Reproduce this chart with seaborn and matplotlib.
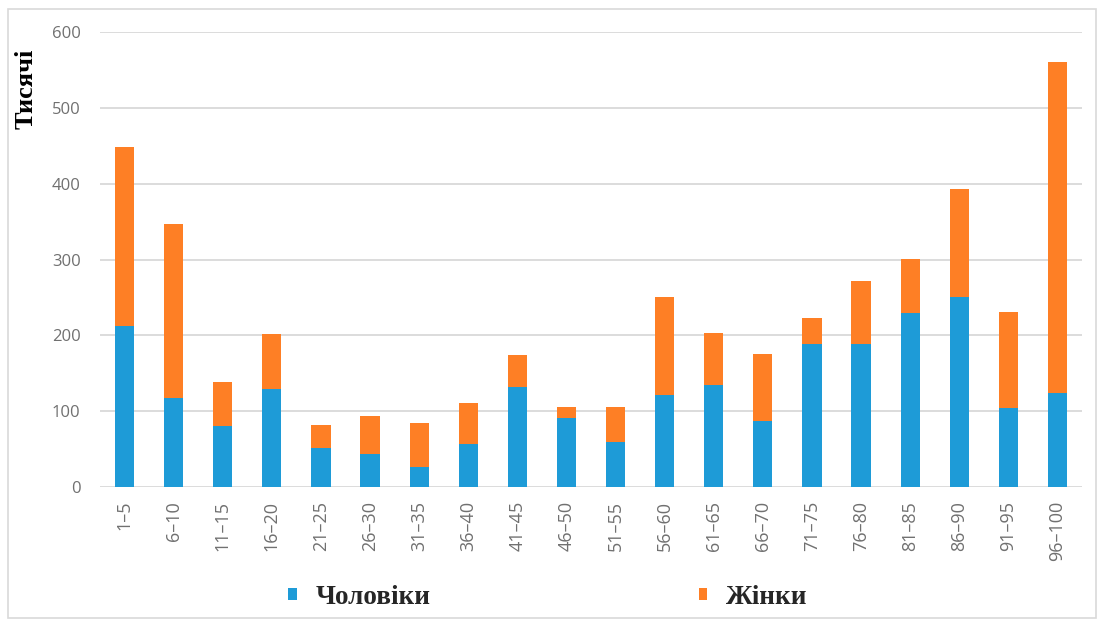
import numpy as np
import pandas as pd
import matplotlib
matplotlib.use("Agg")
import matplotlib.pyplot as plt
from matplotlib.patches import Patch, Rectangle
from matplotlib.font_manager import FontProperties
import seaborn as sns

# Age groups and counts (thousands)
age_groups = ["1–5", "6–10", "11–15", "16–20", "21–25", "26–30", "31–35", "36–40",
              "41–45", "46–50", "51–55", "56–60", "61–65", "66–70", "71–75", "76–80",
              "81–85", "86–90", "91–95", "96–100"]
men = [212, 117, 81, 129, 51, 44, 27, 57, 132, 91, 60, 121, 135, 87, 188, 189,
       229, 251, 104, 124]
women = [237, 230, 58, 73, 31, 49, 58, 54, 42, 15, 45, 130, 68, 88, 35, 83,
         72, 142, 127, 437]
y_ticks = [0, 100, 200, 300, 400, 500, 600]

men_label = "Чоловіки"
women_label = "Жінки"
y_label = "Тисячі"

blue = "#1E9BD7"
orange = "#FE7F25"
grid_col = "#D9D9D9"
tick_col = "#707070"

df = pd.DataFrame({"age": age_groups, "men": men, "women": women})
df["total"] = df["men"] + df["women"]

sns.set_theme(style="white")
plt.rcParams["font.family"] = ["Open Sans", "DejaVu Sans"]

W, H = 1097, 621
fig = plt.figure(figsize=(W / 100, H / 100), dpi=100)
ax = fig.add_axes([100 / W, 1 - 487 / H, (1082 - 100) / W, (487 - 32) / H])

# Stacked bars: full height in orange, men's share in blue on top of it
sns.barplot(data=df, x="age", y="total", color=orange, saturation=1, width=0.39,
            linewidth=0, ax=ax, zorder=3)
sns.barplot(data=df, x="age", y="men", color=blue, saturation=1, width=0.39,
            linewidth=0, ax=ax, zorder=4)

ax.set_ylim(0, 600)
ax.set_xlim(-0.5, len(age_groups) - 0.5)
ax.set_yticks(y_ticks)
ax.yaxis.grid(True, color=grid_col, linewidth=1.3, zorder=0)
ax.xaxis.grid(False)
ax.set_axisbelow(True)
for s in ax.spines.values():
    s.set_visible(False)
ax.set_xlabel("")
ax.set_ylabel("")
ax.tick_params(axis="y", length=0, pad=14, labelsize=12, labelcolor=tick_col)
ax.tick_params(axis="x", length=0, pad=10, labelsize=13, labelcolor=tick_col,
               rotation=90)
for lab in ax.get_xticklabels():
    lab.set_va("top")

serif_bold = FontProperties(family="Liberation Serif", weight="bold",
                            style="normal", size=19)

# Vertical axis caption
fig.text(26 / W, 1 - 89 / H, y_label, rotation=90, ha="center", va="center",
         fontproperties=serif_bold, color="black")

# Legend below the chart
handles = [Patch(facecolor=blue, edgecolor="none", label=men_label),
           Patch(facecolor=orange, edgecolor="none", label=women_label)]
legend_font = FontProperties(family="Liberation Serif", weight="bold",
                             style="normal", size=19.5)
fig.legend(handles=handles, loc="center left", ncol=2,
           bbox_to_anchor=(288 / W, 1 - 597 / H), frameon=False,
           borderpad=0, borderaxespad=0, handlelength=0.32, handleheight=0.32,
           handletextpad=0.7, columnspacing=9.9, prop=legend_font)

# Light frame around the figure
fig.patches.append(Rectangle((8 / W, 1 - 618 / H), (1096 - 8) / W, (618 - 9) / H,
                             transform=fig.transFigure, fill=False,
                             edgecolor=grid_col, linewidth=1.2))

fig.savefig("out.png", dpi=100)
